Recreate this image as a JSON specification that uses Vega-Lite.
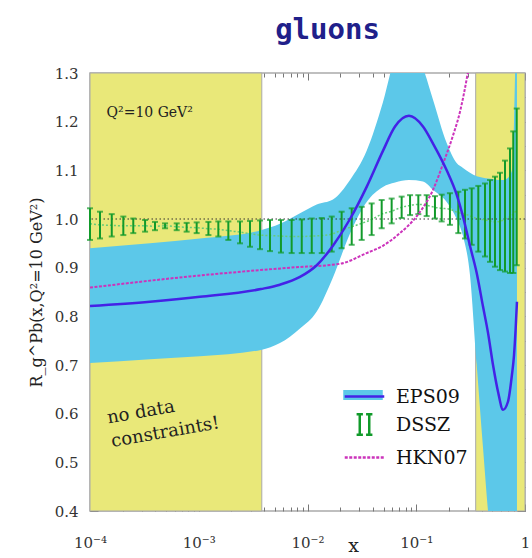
{
  "$schema": "https://vega.github.io/schema/vega-lite/v6.json",
  "width": 435,
  "height": 438,
  "autosize": {"type": "none"},
  "padding": {"left": 90, "top": 73, "right": 7, "bottom": 47},
  "background": "white",
  "config": {"view": {"stroke": "#aaaaaa", "strokeWidth": 1.5}},
  "title": {"text": "gluons", "font": "DejaVu Sans Mono", "fontSize": 29, "fontWeight": "bold", "color": "#20208a", "anchor": "middle", "frame": "group", "baseline": "alphabetic", "offset": -2, "dx": 20},
  "datasets": {
    "regions": [{"x": 0.0001, "x2": 0.0038}, {"x": 0.352, "x2": 1}],
    "eps": [
      {"x": 0.0001, "lo": 0.704, "hi": 0.94, "mid": 0.821},
      {"x": 0.000356, "lo": 0.712, "hi": 0.95, "mid": 0.83},
      {"x": 0.001026, "lo": 0.718, "hi": 0.96, "mid": 0.84},
      {"x": 0.00373, "lo": 0.731, "hi": 0.977, "mid": 0.856},
      {"x": 0.00558, "lo": 0.745, "hi": 0.99, "mid": 0.865},
      {"x": 0.00853, "lo": 0.775, "hi": 1.012, "mid": 0.881},
      {"x": 0.01216, "lo": 0.81, "hi": 1.03, "mid": 0.905},
      {"x": 0.01714, "lo": 0.88, "hi": 1.04, "mid": 0.945},
      {"x": 0.0246, "lo": 0.97, "hi": 1.08, "mid": 1.0},
      {"x": 0.035, "lo": 1.035, "hi": 1.14, "mid": 1.066},
      {"x": 0.0494, "lo": 1.066, "hi": 1.24, "mid": 1.14},
      {"x": 0.0638, "lo": 1.075, "hi": 1.33, "mid": 1.19},
      {"x": 0.0857, "lo": 1.08, "hi": 1.36, "mid": 1.212},
      {"x": 0.1153, "lo": 1.077, "hi": 1.31, "mid": 1.19},
      {"x": 0.1426, "lo": 1.06, "hi": 1.245, "mid": 1.155},
      {"x": 0.1905, "lo": 1.035, "hi": 1.156, "mid": 1.1},
      {"x": 0.2353, "lo": 1.0, "hi": 1.115, "mid": 1.05},
      {"x": 0.2692, "lo": 0.965, "hi": 1.105, "mid": 1.005},
      {"x": 0.3119, "lo": 0.885, "hi": 1.095, "mid": 0.945},
      {"x": 0.3597, "lo": 0.7, "hi": 1.088, "mid": 0.889},
      {"x": 0.4111, "lo": 0.53, "hi": 1.085, "mid": 0.82},
      {"x": 0.4571, "lo": 0.4, "hi": 1.083, "mid": 0.766},
      {"x": 0.5082, "lo": 0.3, "hi": 1.082, "mid": 0.7},
      {"x": 0.5649, "lo": 0.25, "hi": 1.08, "mid": 0.645},
      {"x": 0.6281, "lo": 0.2, "hi": 1.08, "mid": 0.608},
      {"x": 0.6982, "lo": 0.2, "hi": 1.085, "mid": 0.625},
      {"x": 0.7586, "lo": 0.2, "hi": 1.1, "mid": 0.68},
      {"x": 0.7925, "lo": 0.2, "hi": 1.2, "mid": 0.72},
      {"x": 0.8185, "lo": 0.2, "hi": 1.35, "mid": 0.77},
      {"x": 0.8437, "lo": 0.2, "hi": 1.5, "mid": 0.83}
    ],
    "hkn": [
      {"x": 0.0001, "y": 0.859},
      {"x": 0.00083, "y": 0.882},
      {"x": 0.0069, "y": 0.9},
      {"x": 0.0199, "y": 0.908},
      {"x": 0.035, "y": 0.93},
      {"x": 0.0494, "y": 0.945},
      {"x": 0.0708, "y": 0.971},
      {"x": 0.1004, "y": 1.005},
      {"x": 0.1426, "y": 1.06},
      {"x": 0.1774, "y": 1.115},
      {"x": 0.2159, "y": 1.169},
      {"x": 0.2522, "y": 1.22},
      {"x": 0.2976, "y": 1.3},
      {"x": 0.324, "y": 1.35}
    ],
    "dssz": [
      {"x": 0.0001, "lo": 0.957, "hi": 1.022, "mid": 0.99},
      {"x": 0.0001236, "lo": 0.96, "hi": 1.015, "mid": 0.988},
      {"x": 0.0001585, "lo": 0.964, "hi": 1.01, "mid": 0.987},
      {"x": 0.0002025, "lo": 0.967, "hi": 1.005, "mid": 0.986},
      {"x": 0.00025, "lo": 0.971, "hi": 1.001, "mid": 0.986},
      {"x": 0.000321, "lo": 0.974, "hi": 0.998, "mid": 0.986},
      {"x": 0.000396, "lo": 0.977, "hi": 0.994, "mid": 0.985},
      {"x": 0.00049, "lo": 0.981, "hi": 0.991, "mid": 0.986},
      {"x": 0.000627, "lo": 0.977, "hi": 0.991, "mid": 0.984},
      {"x": 0.000774, "lo": 0.974, "hi": 0.992, "mid": 0.983},
      {"x": 0.000957, "lo": 0.971, "hi": 0.993, "mid": 0.982},
      {"x": 0.001227, "lo": 0.967, "hi": 0.994, "mid": 0.98},
      {"x": 0.001514, "lo": 0.964, "hi": 0.995, "mid": 0.979},
      {"x": 0.001871, "lo": 0.957, "hi": 0.995, "mid": 0.976},
      {"x": 0.002395, "lo": 0.95, "hi": 0.995, "mid": 0.973},
      {"x": 0.00296, "lo": 0.943, "hi": 0.996, "mid": 0.97},
      {"x": 0.00366, "lo": 0.938, "hi": 0.997, "mid": 0.967},
      {"x": 0.00452, "lo": 0.934, "hi": 0.998, "mid": 0.966},
      {"x": 0.0057, "lo": 0.931, "hi": 0.998, "mid": 0.965},
      {"x": 0.00715, "lo": 0.93, "hi": 0.998, "mid": 0.964},
      {"x": 0.00885, "lo": 0.93, "hi": 0.999, "mid": 0.964},
      {"x": 0.01094, "lo": 0.93, "hi": 1.001, "mid": 0.965},
      {"x": 0.01352, "lo": 0.93, "hi": 1.002, "mid": 0.966},
      {"x": 0.0167, "lo": 0.933, "hi": 1.005, "mid": 0.969},
      {"x": 0.0206, "lo": 0.94, "hi": 1.015, "mid": 0.977},
      {"x": 0.0255, "lo": 0.947, "hi": 1.022, "mid": 0.984},
      {"x": 0.0315, "lo": 0.957, "hi": 1.025, "mid": 0.991},
      {"x": 0.0389, "lo": 0.967, "hi": 1.032, "mid": 0.999},
      {"x": 0.0481, "lo": 0.981, "hi": 1.039, "mid": 1.01},
      {"x": 0.0594, "lo": 0.991, "hi": 1.042, "mid": 1.016},
      {"x": 0.0734, "lo": 1.002, "hi": 1.046, "mid": 1.024},
      {"x": 0.0877, "lo": 1.008, "hi": 1.049, "mid": 1.028},
      {"x": 0.1045, "lo": 1.01, "hi": 1.049, "mid": 1.03},
      {"x": 0.1247, "lo": 1.006, "hi": 1.049, "mid": 1.028},
      {"x": 0.1486, "lo": 1.001, "hi": 1.047, "mid": 1.024},
      {"x": 0.1713, "lo": 0.995, "hi": 1.05, "mid": 1.022},
      {"x": 0.204, "lo": 0.988, "hi": 1.053, "mid": 1.02},
      {"x": 0.2436, "lo": 0.971, "hi": 1.056, "mid": 1.013},
      {"x": 0.2806, "lo": 0.96, "hi": 1.06, "mid": 1.01},
      {"x": 0.3234, "lo": 0.947, "hi": 1.063, "mid": 1.005},
      {"x": 0.3721, "lo": 0.933, "hi": 1.068, "mid": 1.0},
      {"x": 0.4285, "lo": 0.923, "hi": 1.073, "mid": 0.998},
      {"x": 0.4764, "lo": 0.912, "hi": 1.08, "mid": 0.996},
      {"x": 0.5297, "lo": 0.902, "hi": 1.087, "mid": 0.994},
      {"x": 0.5888, "lo": 0.895, "hi": 1.095, "mid": 0.995},
      {"x": 0.6547, "lo": 0.892, "hi": 1.12, "mid": 1.0},
      {"x": 0.7278, "lo": 0.889, "hi": 1.145, "mid": 1.005},
      {"x": 0.78, "lo": 0.889, "hi": 1.18, "mid": 1.01},
      {"x": 0.839, "lo": 0.905, "hi": 1.227, "mid": 1.02}
    ]
  },
  "layer": [
    {
      "data": {"name": "regions"},
      "mark": {"type": "rect", "fill": "#e9e879", "stroke": "#aaaaaa", "strokeWidth": 1},
      "encoding": {
        "x": {"field": "x", "type": "quantitative", "scale": {"type": "log", "domain": [0.0001, 1], "nice": false},
          "axis": {"orient": "top", "labels": false, "title": null, "domain": false, "grid": false, "tickColor": "#777777",
            "values": [0.0001,0.0002,0.0003,0.0004,0.0005,0.0006,0.0007,0.0008,0.0009,0.001,0.002,0.003,0.004,0.005,0.006,0.007,0.008,0.009,0.01,0.02,0.03,0.04,0.05,0.06,0.07,0.08,0.09,0.1,0.2,0.3,0.4,0.5,0.6,0.7,0.8,0.9,1],
            "tickSize": {"condition": {"test": "abs(log(datum.value)/LN10 - round(log(datum.value)/LN10)) < 0.001", "value": -7}, "value": -4}}},
        "x2": {"field": "x2"},
        "y": {"datum": 0.4, "type": "quantitative", "scale": {"domain": [0.4, 1.3], "nice": false, "zero": false},
          "axis": {"orient": "right", "labels": false, "title": null, "domain": false, "grid": false, "tickColor": "#777777",
            "values": [0.4,0.45,0.5,0.55,0.6,0.65,0.7,0.75,0.8,0.85,0.9,0.95,1.0,1.05,1.1,1.15,1.2,1.25,1.3],
            "tickSize": {"condition": {"test": "round(datum.value*100) % 10 != 0", "value": -5}, "value": -8}}},
        "y2": {"datum": 1.3}
      }
    },
    {
      "layer": [
        {
          "data": {"name": "eps"},
          "mark": {"type": "area", "clip": true, "interpolate": "monotone"},
          "encoding": {
            "x": {"field": "x", "type": "quantitative", "scale": {"type": "log", "domain": [0.0001, 1], "nice": false},
              "axis": {"orient": "bottom", "domain": false, "grid": false, "tickColor": "#777777",
                "values": [0.0001,0.0002,0.0003,0.0004,0.0005,0.0006,0.0007,0.0008,0.0009,0.001,0.002,0.003,0.004,0.005,0.006,0.007,0.008,0.009,0.01,0.02,0.03,0.04,0.05,0.06,0.07,0.08,0.09,0.1,0.2,0.3,0.4,0.5,0.6,0.7,0.8,0.9,1],
                "labelExpr": "abs(datum.value-0.0001)<1e-9 ? '10⁻⁴' : abs(datum.value-0.001)<1e-8 ? '10⁻³' : abs(datum.value-0.01)<1e-7 ? '10⁻²' : abs(datum.value-0.1)<1e-6 ? '10⁻¹' : abs(datum.value-1)<1e-5 ? '1' : ''",
                "tickSize": {"condition": {"test": "abs(log(datum.value)/LN10 - round(log(datum.value)/LN10)) < 0.001", "value": -7}, "value": -4},
                "labelFont": "DejaVu Serif", "labelFontSize": 15, "labelColor": "#333333", "labelPadding": 31, "labelFlush": false, "labelOverlap": false,
                "title": "x", "titleFont": "DejaVu Serif", "titleFontSize": 19, "titleFontWeight": "normal", "titleColor": "#222222",
                "titleX": 263, "titleY": 40, "titleBaseline": "alphabetic", "titleAlign": "center"}},
            "y": {"field": "lo", "type": "quantitative", "scale": {"domain": [0.4, 1.3], "nice": false, "zero": false},
              "axis": {"orient": "left", "domain": false, "grid": false, "tickColor": "#777777",
                "values": [0.4,0.45,0.5,0.55,0.6,0.65,0.7,0.75,0.8,0.85,0.9,0.95,1.0,1.05,1.1,1.15,1.2,1.25,1.3],
                "labelExpr": "round(datum.value*100) % 10 == 0 ? format(datum.value, '.1f') : ''",
                "tickSize": {"condition": {"test": "round(datum.value*100) % 10 != 0", "value": -5}, "value": -8},
                "labelFont": "DejaVu Serif", "labelFontSize": 15, "labelColor": "#333333", "labelPadding": 20, "labelOverlap": false, "labelFlush": false,
                "title": "R_g^Pb(x,Q²=10 GeV²)", "titleFont": "DejaVu Serif", "titleFontSize": 16, "titleFontWeight": "normal", "titleColor": "#222222",
                "titleX": -54, "titleY": 219, "titleAngle": -90, "titleAlign": "center", "titleBaseline": "middle"}},
            "y2": {"field": "hi"},
            "fill": {"datum": "EPS09", "scale": {"domain": ["EPS09"], "range": ["#5cc8e9"]},
              "legend": {"orient": "none", "legendX": 257, "legendY": 306, "title": null, "padding": 0, "rowPadding": 0,
                "symbolSize": 1000, "symbolType": "M-1.25,-0.32H1.25V0.32H-1.25Z", "symbolStrokeWidth": 0, "symbolOpacity": 1,
                "labelExpr": "''", "labelFont": "DejaVu Serif", "labelFontSize": 19, "zindex": 1}}
          }
        },
        {
          "data": {"values": [{}]},
          "mark": {"type": "rule", "strokeDash": [1.5, 2.5], "color": "#333333", "strokeWidth": 1},
          "encoding": {"y": {"datum": 1, "type": "quantitative", "scale": {"domain": [0.4, 1.3], "nice": false, "zero": false}, "title": "R_g^Pb(x,Q²=10 GeV²)"}}
        },
        {
          "data": {"name": "dssz"},
          "mark": {"type": "line", "color": "#66cc77", "strokeDash": [2, 2], "strokeWidth": 1.5, "interpolate": "monotone"},
          "encoding": {
            "x": {"field": "x", "type": "quantitative", "scale": {"type": "log", "domain": [0.0001, 1], "nice": false}, "title": "x"},
            "y": {"field": "mid", "type": "quantitative", "scale": {"domain": [0.4, 1.3], "nice": false, "zero": false}, "title": "R_g^Pb(x,Q²=10 GeV²)"}
          }
        },
        {
          "data": {"name": "dssz"},
          "mark": {"type": "errorbar", "color": "#119a2a", "ticks": {"size": 6, "thickness": 2}, "rule": {"strokeWidth": 2}},
          "encoding": {
            "x": {"field": "x", "type": "quantitative", "scale": {"type": "log", "domain": [0.0001, 1], "nice": false}, "title": "x"},
            "y": {"field": "lo", "type": "quantitative", "scale": {"domain": [0.4, 1.3], "nice": false, "zero": false}, "title": "R_g^Pb(x,Q²=10 GeV²)"},
            "y2": {"field": "hi"}
          }
        },
        {
          "data": {"name": "hkn"},
          "mark": {"type": "line", "clip": true, "strokeDash": [3, 1.5], "strokeWidth": 2, "interpolate": "monotone"},
          "encoding": {
            "x": {"field": "x", "type": "quantitative", "scale": {"type": "log", "domain": [0.0001, 1], "nice": false}, "title": "x"},
            "y": {"field": "y", "type": "quantitative", "scale": {"domain": [0.4, 1.3], "nice": false, "zero": false}, "title": "R_g^Pb(x,Q²=10 GeV²)"},
            "stroke": {"datum": "HKN07", "scale": {"domain": ["EPS09", "DSSZ", "HKN07"], "range": ["#4422e6", "#119a2a", "#cc33bb"]}}
          }
        },
        {
          "data": {"name": "eps"},
          "mark": {"type": "line", "clip": true, "strokeWidth": 2.5, "interpolate": "monotone"},
          "encoding": {
            "x": {"field": "x", "type": "quantitative", "scale": {"type": "log", "domain": [0.0001, 1], "nice": false}, "title": "x"},
            "y": {"field": "mid", "type": "quantitative", "scale": {"domain": [0.4, 1.3], "nice": false, "zero": false}, "title": "R_g^Pb(x,Q²=10 GeV²)"},
            "stroke": {"datum": "EPS09", "scale": {"domain": ["EPS09", "DSSZ", "HKN07"], "range": ["#4422e6", "#119a2a", "#cc33bb"]},
              "legend": {"orient": "none", "legendX": 257, "legendY": 306, "title": null, "padding": 0, "rowPadding": 0,
                "symbolSize": 1000, "symbolStrokeWidth": 2.5, "labelFont": "DejaVu Serif", "labelFontSize": 19, "labelColor": "#111111", "labelOffset": 14, "zindex": 2,
                "encode": {"symbols": {"update": {
                  "shape": {"signal": "datum.value === 'DSSZ' ? 'M-0.3,-0.65V0.65M-0.5,-0.65H-0.1M-0.5,0.65H-0.1M0.3,-0.65V0.65M0.1,-0.65H0.5M0.1,0.65H0.5' : 'M-1.25,0H1.25'"},
                  "strokeDash": {"signal": "datum.value === 'HKN07' ? [3, 1.5] : [1, 0]"}
                }}}}}
          }
        },
        {
          "data": {"values": [{"t": "Q²=10 GeV²"}]},
          "mark": {"type": "text", "font": "DejaVu Serif", "fontSize": 14, "align": "left", "baseline": "alphabetic", "color": "#222222"},
          "encoding": {
            "x": {"datum": 0.000142, "type": "quantitative", "scale": {"type": "log", "domain": [0.0001, 1], "nice": false}},
            "y": {"datum": 1.21, "type": "quantitative", "scale": {"domain": [0.4, 1.3], "nice": false, "zero": false}},
            "text": {"field": "t"}
          }
        },
        {
          "data": {"values": [{"t": ["no data", "constraints!"]}]},
          "mark": {"type": "text", "font": "DejaVu Serif", "fontSize": 18, "align": "left", "baseline": "alphabetic", "angle": -10, "lineHeight": 24, "color": "#222222"},
          "encoding": {
            "x": {"datum": 0.000147, "type": "quantitative", "scale": {"type": "log", "domain": [0.0001, 1], "nice": false}},
            "y": {"datum": 0.58, "type": "quantitative", "scale": {"domain": [0.4, 1.3], "nice": false, "zero": false}},
            "text": {"field": "t"}
          }
        }
      ]
    }
  ],
  "resolve": {"axis": {"x": "independent", "y": "independent"}}
}
